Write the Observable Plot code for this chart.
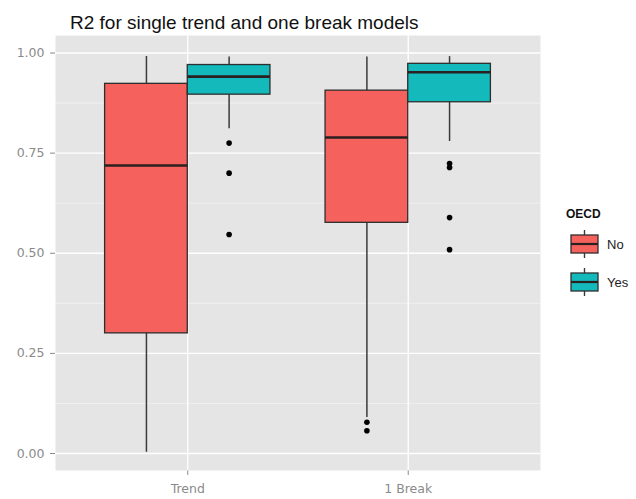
<!DOCTYPE html>
<html><head><meta charset="utf-8">
<script src="https://cdn.jsdelivr.net/npm/d3@7"></script>
<script src="https://cdn.jsdelivr.net/npm/@observablehq/plot@0.6"></script>
<style>
body{margin:0;background:#fff;}
#wrap{position:relative;width:636px;height:499px;overflow:hidden;font-family:"Liberation Sans",Arial,sans-serif;}
#title{position:absolute;left:70px;top:13px;font-size:19px;line-height:19px;color:#111;white-space:nowrap;}
#chart{position:absolute;left:0;top:35px;}
#legend{position:absolute;left:560px;top:200px;pointer-events:none;}
</style></head><body>
<div id="wrap">
  <div id="title">R2 for single trend and one break models</div>
  <div id="chart"></div>
  <svg id="legend" width="76" height="110"></svg>
</div>
<script>
// ---- data ----
const categories = ["Trend", "1 Break"];
const groups = ["No", "Yes"];
const groupColors = ["#F5625D", "#14B9BC"];
const yTicks = [0, 0.25, 0.5, 0.75, 1];

// box summaries, in order: Trend/No, Trend/Yes, 1 Break/No, 1 Break/Yes
const boxModel    = ["Trend", "Trend", "1 Break", "1 Break"];
const boxOECD     = ["No", "Yes", "No", "Yes"];
const whiskerLow  = [0.003, 0.811, 0.090, 0.779];
const q1          = [0.300, 0.896, 0.576, 0.877];
const median      = [0.719, 0.941, 0.789, 0.952];
const q3          = [0.923, 0.970, 0.906, 0.973];
const whiskerHigh = [0.991, 0.990, 0.990, 0.991];

// outliers
const outlierModel = ["Trend", "Trend", "Trend", "1 Break", "1 Break", "1 Break", "1 Break", "1 Break", "1 Break"];
const outlierOECD  = ["Yes", "Yes", "Yes", "No", "No", "Yes", "Yes", "Yes", "Yes"];
const outlierValue = [0.775, 0.700, 0.547, 0.078, 0.057, 0.724, 0.714, 0.589, 0.509];

// ---- build tables ----
const dodge = 0.375; // box width in category units
const center = (m, g) => categories.indexOf(m) + 1 + (g === groups[0] ? -dodge / 2 : dodge / 2);
const boxes = boxModel.map((m, i) => ({
  model: m, oecd: boxOECD[i],
  pos: center(m, boxOECD[i]),
  left: center(m, boxOECD[i]) - dodge / 2,
  right: center(m, boxOECD[i]) + dodge / 2,
  low: whiskerLow[i], q1: q1[i], median: median[i], q3: q3[i], high: whiskerHigh[i]
}));
const outliers = outlierModel.map((m, i) => ({
  model: m, oecd: outlierOECD[i], pos: center(m, outlierOECD[i]), value: outlierValue[i]
}));
const minorTicks = d3.pairs(yTicks).map(([a, b]) => (a + b) / 2);

const chart = Plot.plot({
  width: 636, height: 464,
  marginTop: 0, marginBottom: 29, marginLeft: 55, marginRight: 96,
  x: {type: "linear", domain: [0.4, 2.6], ticks: [1, 2], tickFormat: d => categories[d - 1],
      tickSize: 5, tickPadding: 9, label: null},
  y: {domain: [-0.0424, 1.0437], ticks: yTicks, tickFormat: d3.format(".2f"),
      tickSize: 5, tickPadding: 6, label: null},
  color: {domain: groups, range: groupColors},
  style: {fontFamily: "'DejaVu Sans', sans-serif", fontSize: "12.5px", color: "#8a8a8a", background: "transparent"},
  marks: [
    Plot.frame({fill: "#E5E5E5", stroke: null}),
    Plot.ruleY(minorTicks, {stroke: "#F2F2F2", strokeWidth: 0.8}),
    Plot.ruleY(yTicks, {stroke: "#ffffff", strokeWidth: 1.3}),
    Plot.ruleX([1, 2], {stroke: "#ffffff", strokeWidth: 1.3}),
    Plot.ruleX(boxes, {x: "pos", y1: "low", y2: "high", stroke: "#3a3a3a", strokeWidth: 1.5}),
    Plot.rect(boxes, {x1: "left", x2: "right", y1: "q1", y2: "q3", fill: "oecd", stroke: "#2e2e2e", strokeWidth: 1.3}),
    Plot.ruleY(boxes, {y: "median", x1: "left", x2: "right", stroke: "#2a2020", strokeWidth: 2.6}),
    Plot.dot(outliers, {x: "pos", y: "value", r: 2.8, fill: "#000000", stroke: null})
  ]
});
document.getElementById("chart").appendChild(chart);

// ---- legend ----
const lg = d3.select("#legend");
lg.append("text").attr("x", 6).attr("y", 18).text("OECD")
  .attr("font-family", "'Liberation Sans', Arial, sans-serif").attr("font-weight", "bold")
  .attr("font-size", 12).attr("fill", "#111");
groups.forEach((g, i) => {
  const cy = 44 + i * 38, cx = 24.5;
  const k = lg.append("g");
  k.append("line").attr("x1", cx).attr("x2", cx).attr("y1", cy - 14).attr("y2", cy + 14)
    .attr("stroke", "#3a3a3a").attr("stroke-width", 1.4);
  k.append("rect").attr("x", cx - 13.5).attr("y", cy - 9).attr("width", 27).attr("height", 18)
    .attr("fill", groupColors[i]).attr("stroke", "#2e2e2e").attr("stroke-width", 1.3);
  k.append("line").attr("x1", cx - 13.5).attr("x2", cx + 13.5).attr("y1", cy).attr("y2", cy)
    .attr("stroke", "#2a2020").attr("stroke-width", 2.2);
  lg.append("text").attr("x", 47).attr("y", cy).attr("dy", "0.35em").text(g)
    .attr("font-family", "'Liberation Sans', Arial, sans-serif").attr("font-size", 13)
    .attr("fill", "#222");
});
</script>
</body></html>
